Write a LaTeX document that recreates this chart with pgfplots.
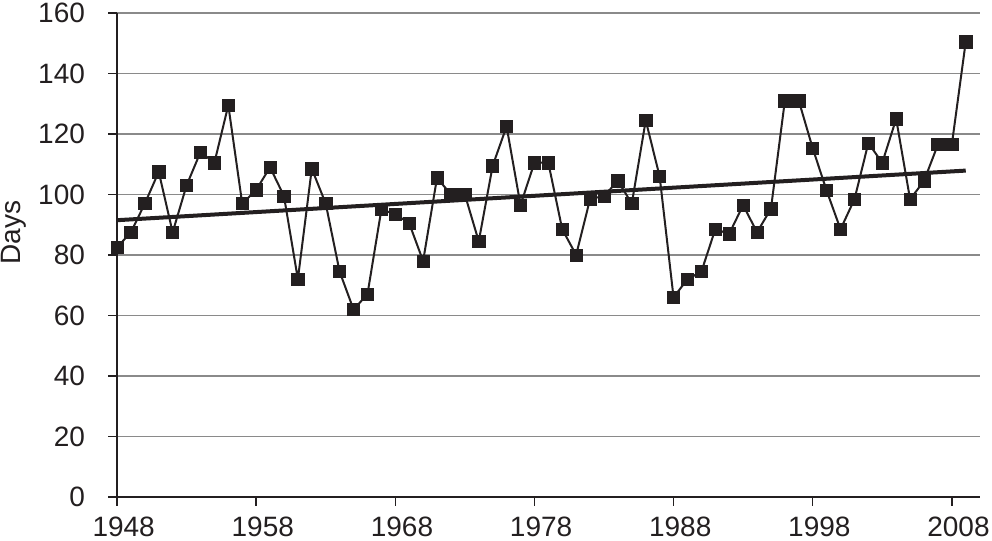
\documentclass[border=0pt]{standalone}
\usepackage{pgfplots}
\pgfplotsset{compat=1.18}
\usepackage{fontspec}
\setmainfont{Liberation Sans}
\definecolor{ink}{HTML}{231F20}
\definecolor{gridc}{HTML}{8A8A8A}
\begin{document}
\begin{tikzpicture}
\useasboundingbox (-87.75pt,-33pt) rectangle (656.25pt,372.75pt);
\begin{axis}[
  at={(0,0)}, anchor=south west,
  scale only axis, width=647pt, height=363pt,
  xmin=1948, xmax=2010, ymin=0, ymax=160,
  xtick={1948,1958,1968,1978,1988,1998,2008},
  ytick={0,20,...,160},
  axis lines=left, axis line style={-, ink, line width=1.3pt},
  ymajorgrids, grid style={gridc, line width=0.8pt},
  tick align=outside, major tick length=6.5pt,
  tick style={ink, line width=1.1pt},
  /pgf/number format/1000 sep={},
  /pgf/number format/assume math mode=true,
  tick label style={font=\fontsize{21}{24}\selectfont, text=ink},
  yticklabel style={xshift=-14pt},
  xticklabel style={yshift=-5pt, xshift=5pt},
  ylabel={Days},
  ylabel style={font=\fontsize{21}{24}\selectfont, text=ink, at={(axis description cs:-0.12,0.546)}, anchor=center},
  clip=false,
]
\addplot[ink, line width=1.5pt, mark=square*, mark size=4.6pt,
  mark options={rounded corners=2.2pt, fill=ink, draw=ink, line width=0.5pt}]
coordinates {
(1948,82.5)(1949,87.5)(1950,97)(1951,107.5)(1952,87.5)(1953,103)(1954,114)(1955,110.5)
(1956,129.5)(1957,97)(1958,101.5)(1959,109)(1960,99.5)(1961,72)(1962,108.5)(1963,97)
(1964,74.5)(1965,62)(1966,67)(1967,95)(1968,93.5)(1969,90.5)(1970,78)(1971,105.5)
(1972,100)(1973,100)(1974,84.5)(1975,109.5)(1976,122.5)(1977,96.5)(1978,110.5)(1979,110.5)
(1980,88.5)(1981,80)(1982,98.5)(1983,99.5)(1984,104.5)(1985,97)(1986,124.5)(1987,106)
(1988,66)(1989,72)(1990,74.5)(1991,88.5)(1992,87)(1993,96.5)(1994,87.5)(1995,95.3)
(1996,131)(1997,131)(1998,115.3)(1999,101.3)(2000,88.5)(2001,98.4)(2002,117)(2003,110.5)
(2004,125)(2005,98.4)(2006,104.5)(2007,116.5)(2008,116.5)(2009,150.5)
};
\addplot[ink, line width=3pt] coordinates {(1948,91.5)(2009,107.9)};
\end{axis}
\end{tikzpicture}
\end{document}
